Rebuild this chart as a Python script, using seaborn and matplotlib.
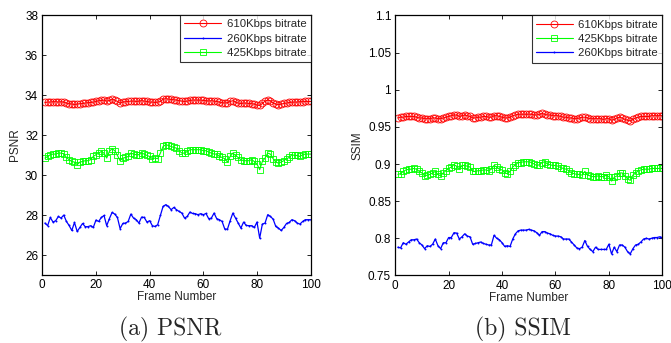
import numpy as np
import pandas as pd
import seaborn as sns
import matplotlib
matplotlib.use("Agg")
import matplotlib.pyplot as plt

frames = list(range(1, 101))

psnr_610 = [33.63, 33.65, 33.65, 33.67, 33.67, 33.65, 33.67, 33.65, 33.60, 33.57,
            33.55, 33.53, 33.55, 33.57, 33.58, 33.60, 33.62, 33.63, 33.65, 33.68,
            33.72, 33.73, 33.75, 33.70, 33.73, 33.80, 33.75, 33.68, 33.60, 33.65,
            33.67, 33.68, 33.70, 33.70, 33.68, 33.70, 33.72, 33.70, 33.68, 33.65,
            33.65, 33.63, 33.65, 33.68, 33.80, 33.82, 33.80, 33.78, 33.77, 33.75,
            33.72, 33.70, 33.68, 33.70, 33.73, 33.75, 33.75, 33.75, 33.75, 33.73,
            33.72, 33.70, 33.72, 33.70, 33.68, 33.65, 33.62, 33.60, 33.62, 33.68,
            33.72, 33.65, 33.60, 33.58, 33.60, 33.60, 33.58, 33.57, 33.55, 33.50,
            33.48, 33.58, 33.70, 33.75, 33.72, 33.60, 33.55, 33.52, 33.55, 33.58,
            33.60, 33.63, 33.65, 33.65, 33.65, 33.67, 33.67, 33.68, 33.68, 33.68]

psnr_260 = [27.60, 27.47, 27.88, 27.65, 27.72, 27.93, 27.85, 28.00, 27.68, 27.48,
            27.23, 27.63, 27.18, 27.38, 27.58, 27.42, 27.42, 27.47, 27.38, 27.75,
            27.68, 27.88, 27.98, 27.47, 27.82, 28.13, 28.05, 27.88, 27.32, 27.58,
            27.60, 27.68, 28.05, 27.85, 27.77, 27.60, 27.90, 27.88, 27.65, 27.72,
            27.47, 27.43, 27.52, 27.98, 28.43, 28.52, 28.43, 28.27, 28.38, 28.27,
            28.18, 28.10, 27.85, 27.93, 28.15, 28.08, 28.07, 28.02, 28.07, 28.02,
            28.08, 27.82, 27.85, 28.10, 27.82, 27.77, 27.68, 27.30, 27.30, 27.72,
            28.10, 27.85, 27.60, 27.35, 27.65, 27.48, 27.47, 27.47, 27.38, 27.65,
            26.85, 27.55, 27.60, 28.02, 27.93, 27.80, 27.43, 27.35, 27.23, 27.38,
            27.58, 27.63, 27.77, 27.72, 27.60, 27.55, 27.68, 27.77, 27.77, 27.77]

psnr_425 = [30.85, 30.93, 31.02, 31.05, 31.05, 31.10, 31.10, 31.07, 30.88, 30.77,
            30.68, 30.65, 30.52, 30.65, 30.68, 30.72, 30.72, 30.77, 30.93, 31.02,
            31.10, 31.18, 31.10, 30.85, 31.18, 31.32, 31.22, 30.98, 30.72, 30.85,
            30.88, 30.93, 31.10, 31.05, 31.02, 31.02, 31.10, 31.05, 30.98, 30.93,
            30.82, 30.85, 30.82, 31.10, 31.43, 31.52, 31.48, 31.43, 31.38, 31.35,
            31.22, 31.10, 31.10, 31.18, 31.27, 31.27, 31.27, 31.27, 31.27, 31.22,
            31.22, 31.15, 31.10, 31.05, 31.05, 30.93, 30.88, 30.82, 30.65, 30.93,
            31.10, 30.98, 30.88, 30.77, 30.72, 30.72, 30.72, 30.77, 30.68, 30.55,
            30.27, 30.68, 30.85, 31.10, 31.05, 30.82, 30.65, 30.60, 30.65, 30.72,
            30.82, 30.88, 31.02, 30.98, 30.98, 30.93, 31.02, 31.05, 31.05, 31.05]

ssim_610 = [0.962, 0.963, 0.963, 0.964, 0.964, 0.964, 0.964, 0.963, 0.962, 0.962,
            0.961, 0.961, 0.961, 0.962, 0.962, 0.961, 0.961, 0.962, 0.963, 0.964,
            0.965, 0.966, 0.966, 0.964, 0.965, 0.966, 0.965, 0.964, 0.962, 0.962,
            0.963, 0.963, 0.964, 0.964, 0.963, 0.963, 0.965, 0.965, 0.964, 0.963,
            0.962, 0.962, 0.963, 0.965, 0.966, 0.967, 0.967, 0.967, 0.967, 0.967,
            0.967, 0.966, 0.966, 0.967, 0.968, 0.967, 0.966, 0.966, 0.965, 0.965,
            0.965, 0.964, 0.963, 0.963, 0.962, 0.962, 0.961, 0.961, 0.962, 0.963,
            0.963, 0.962, 0.961, 0.961, 0.961, 0.961, 0.961, 0.960, 0.961, 0.961,
            0.959, 0.960, 0.962, 0.963, 0.962, 0.960, 0.959, 0.958, 0.960, 0.962,
            0.963, 0.964, 0.964, 0.964, 0.964, 0.965, 0.965, 0.965, 0.965, 0.965]

ssim_425 = [0.886, 0.887, 0.890, 0.892, 0.893, 0.893, 0.894, 0.893, 0.890, 0.888,
            0.884, 0.885, 0.886, 0.888, 0.890, 0.886, 0.884, 0.888, 0.891, 0.894,
            0.896, 0.899, 0.897, 0.893, 0.898, 0.898, 0.897, 0.896, 0.890, 0.890,
            0.891, 0.891, 0.892, 0.892, 0.891, 0.893, 0.898, 0.896, 0.893, 0.892,
            0.888, 0.887, 0.890, 0.896, 0.899, 0.902, 0.902, 0.903, 0.903, 0.903,
            0.902, 0.900, 0.898, 0.899, 0.902, 0.903, 0.900, 0.899, 0.898, 0.898,
            0.897, 0.895, 0.894, 0.893, 0.891, 0.888, 0.887, 0.886, 0.886, 0.885,
            0.890, 0.885, 0.884, 0.883, 0.883, 0.884, 0.883, 0.883, 0.885, 0.883,
            0.877, 0.882, 0.884, 0.888, 0.888, 0.884, 0.880, 0.878, 0.885, 0.888,
            0.891, 0.892, 0.893, 0.893, 0.893, 0.894, 0.894, 0.894, 0.894, 0.894]

ssim_260 = [0.788, 0.787, 0.794, 0.792, 0.795, 0.798, 0.798, 0.799, 0.794, 0.791,
            0.786, 0.790, 0.789, 0.792, 0.799, 0.790, 0.786, 0.794, 0.794, 0.801,
            0.801, 0.8075, 0.807, 0.799, 0.802, 0.806, 0.803, 0.802, 0.792, 0.793,
            0.794, 0.795, 0.793, 0.792, 0.791, 0.791, 0.804, 0.800, 0.798, 0.794,
            0.789, 0.790, 0.789, 0.799, 0.806, 0.810, 0.811, 0.811, 0.811, 0.812,
            0.811, 0.810, 0.8075, 0.804, 0.809, 0.809, 0.807, 0.806, 0.804, 0.803,
            0.803, 0.802, 0.799, 0.799, 0.799, 0.795, 0.791, 0.787, 0.786, 0.788,
            0.797, 0.789, 0.785, 0.782, 0.788, 0.785, 0.785, 0.785, 0.785, 0.792,
            0.779, 0.788, 0.782, 0.791, 0.791, 0.788, 0.782, 0.779, 0.786, 0.791,
            0.792, 0.795, 0.799, 0.800, 0.799, 0.800, 0.801, 0.801, 0.802, 0.801]

labels = {"610": "610Kbps bitrate", "425": "425Kbps bitrate", "260": "260Kbps bitrate"}
psnr_ticks = [26, 28, 30, 32, 34, 36, 38]
ssim_ticks = [0.75, 0.8, 0.85, 0.9, 0.95, 1.0, 1.05, 1.1]
ssim_ticklabels = ["0.75", "0.8", "0.85", "0.9", "0.95", "1", "1.05", "1.1"]
x_ticks = [0, 20, 40, 60, 80, 100]

sns.set_style("ticks")
plt.rcParams["font.family"] = ["Liberation Sans", "DejaVu Sans"]

fig = plt.figure(figsize=(6.71, 3.43), dpi=100)
axL = fig.add_axes([0.063, 0.198, 0.400, 0.758])
axR = fig.add_axes([0.589, 0.197, 0.398, 0.758])

styles = {
    "610": dict(color="#ff0000", marker="o", markersize=5.0, markerfacecolor="none",
                markeredgecolor="#ff0000", markeredgewidth=0.6, linewidth=0.8),
    "425": dict(color="#00ff00", marker="s", markersize=5.0, markerfacecolor="none",
                markeredgecolor="#00ff00", markeredgewidth=0.6, linewidth=0.8),
    "260": dict(color="#0000ff", marker=".", markersize=2.8, markeredgewidth=0,
                linewidth=0.9),
}

def draw(ax, key, y):
    sns.lineplot(x=frames, y=y, ax=ax, label=labels[key], **styles[key])

draw(axL, "610", psnr_610)
draw(axL, "260", psnr_260)
draw(axL, "425", psnr_425)

draw(axR, "610", ssim_610)
draw(axR, "425", ssim_425)
draw(axR, "260", ssim_260)

fs = 8.5
for ax in (axL, axR):
    ax.set_xlim(0, 100)
    ax.set_xticks(x_ticks)
    ax.tick_params(direction="in", top=True, right=True, length=3, width=0.6,
                   labelsize=fs, pad=3, colors="black")
    for s in ax.spines.values():
        s.set_linewidth(0.9)
        s.set_color("black")
    ax.set_xlabel("Frame Number", fontsize=fs, labelpad=0)
    leg = ax.legend(loc="upper right", fontsize=8.2, frameon=True, fancybox=False,
                    borderaxespad=0, handlelength=3.2, borderpad=0.38,
                    labelspacing=0.38, handletextpad=0.5)
    leg.get_frame().set_edgecolor("black")
    leg.get_frame().set_linewidth(0.8)

axL.set_ylim(25, 38)
axL.set_yticks(psnr_ticks)
axL.set_ylabel("PSNR", fontsize=fs, labelpad=3)

axR.set_ylim(0.75, 1.1)
axR.set_yticks(ssim_ticks)
axR.set_yticklabels(ssim_ticklabels)
axR.set_ylabel("SSIM", fontsize=fs, labelpad=3)

fig.text(0.253, 0.022, "(a) PSNR", family=["cmr10", "DejaVu Serif"], fontsize=17,
         ha="center", va="baseline")
fig.text(0.780, 0.022, "(b) SSIM", family=["cmr10", "DejaVu Serif"], fontsize=17,
         ha="center", va="baseline")

fig.savefig("out.png", dpi=100, facecolor="white")
